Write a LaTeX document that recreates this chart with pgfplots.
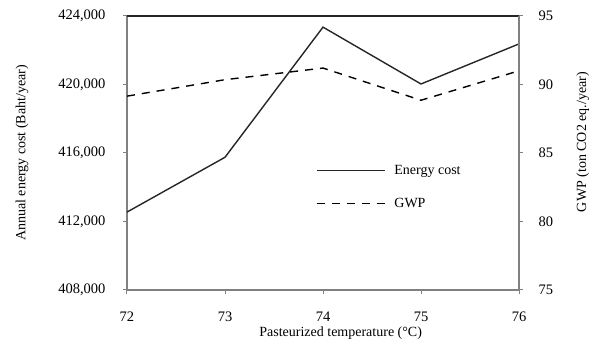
\documentclass[border=0pt]{standalone}
\usepackage{pgfplots}
\pgfplotsset{compat=1.18}
\usepackage{fontspec}
\setmainfont{Liberation Serif}
\usetikzlibrary{calc}
\definecolor{axgray}{RGB}{128,128,128}
\pgfplotsset{
  longleg/.style={legend image code/.code={\draw[##1] (0pt,0pt) -- (68pt,0pt);}},
  common/.style={
    width=392pt, height=274pt, scale only axis,
    xmin=72, xmax=76,
    /pgf/number format/assume math mode=true,
    tick label style={font=\fontsize{14.5}{16}\selectfont},
    label style={font=\fontsize{14}{16}\selectfont},
    tick style={axgray, line width=1pt},
    major tick length=4pt,
    tick align=outside,
  },
}
\begin{document}
\begin{tikzpicture}
\begin{axis}[
  common,
  name=main,
  axis x line*=bottom,
  axis y line*=left,
  axis line style={axgray, line width=2pt},
  ymin=408000, ymax=424000,
  ytick={408000,412000,416000,420000,424000},
  scaled y ticks=false,
  yticklabel style={xshift=-14pt, /pgf/number format/.cd, fixed, 1000 sep={,}},
  xtick={72,73,74,75,76},
  xticklabel style={yshift=-14pt},
  ylabel={Annual energy cost (Baht/year)},
  xlabel={Pasteurized temperature (\textdegree C)},
  xlabel style={at={(axis description cs:0.545,0)}, anchor=center, yshift=-43pt},
  ylabel style={at={(axis description cs:-0.268,0.5)}, anchor=center},
  clip=false,
]
\addplot[black!85, line width=1.4pt] coordinates {
  (72,412550) (73,415750) (74,423350) (75,420030) (76,422370)
};
\draw[black!85, line width=1.6pt] (rel axis cs:0,1) -- (rel axis cs:1,1);
\end{axis}
\begin{axis}[
  common,
  axis x line=none,
  axis y line*=right,
  axis line style={axgray, line width=2pt},
  ymin=75, ymax=95,
  ytick={75,80,85,90,95},
  yticklabel style={xshift=12pt},
  ylabel={GWP (ton CO2 eq./year)},
  ylabel style={at={(axis description cs:1.163,0.54)}, anchor=center},
  legend style={at={(0.474,0.47)}, anchor=north west, draw=none, fill=none,
    font=\fontsize{14}{16}\selectfont, row sep=18pt,
    /tikz/every odd column/.append style={column sep=7pt}},
  legend cell align=left,
  longleg,
]
\addlegendimage{black!85, line width=1.4pt}
\addlegendentry{Energy cost}
\addplot[black, line width=1.4pt, dash pattern=on 8pt off 7pt] coordinates {
  (72,89.15) (73,90.35) (74,91.2) (75,88.85) (76,91.0)
};
\addlegendentry{GWP}
\end{axis}
\path ($(main.south west)+(-127pt,-57pt)$) rectangle ($(main.north east)+(77pt,16pt)$);
\end{tikzpicture}
\end{document}
